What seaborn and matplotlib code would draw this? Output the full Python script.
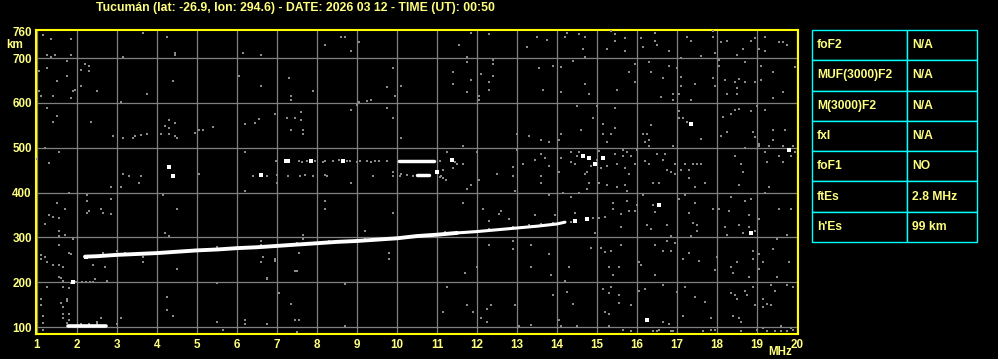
import matplotlib
matplotlib.use("Agg")
import matplotlib.pyplot as plt
import matplotlib.transforms as mtransforms
import numpy as np
import pandas as pd
import seaborn as sns

# ---------------- text / labels ----------------
title = "Tucumán (lat: -26.9, lon: 294.6) - DATE: 2026 03 12 - TIME (UT): 00:50"
x_ticks = list(range(1, 21))
y_ticks = [100, 200, 300, 400, 500, 600, 700, 760]
x_unit = "MHz"
y_unit = "km"
param_names = ["foF2", "MUF(3000)F2", "M(3000)F2", "fxI", "foF1", "ftEs", "h'Es"]
param_values = ["N/A", "N/A", "N/A", "N/A", "NO", "2.8 MHz", "99 km"]

# ---------------- traces (bright, continuous) ----------------
f_trace_low_freq = [2.2, 2.5, 3.0, 3.5, 4.0, 4.5, 5.0, 5.5, 6.0, 6.5, 7.0, 7.5, 8.0,
                    8.5, 9.0, 9.5, 10.0, 10.5, 11.0, 11.5]
f_trace_low_km = [257, 258, 261, 263, 265, 268, 271, 273, 276, 278, 281, 284, 287,
                  290, 292, 295, 298, 303, 306, 310]
f_trace_high_freq = [11.5, 12.0, 12.5, 13.0, 13.5, 14.0, 14.2]
f_trace_high_km = [310, 313, 317, 321, 325, 330, 334]
es_trace_freq = [1.78, 2.72]
es_trace_km = [102, 102]
echo470_seg_freq = [10.05, 10.92]
echo470_seg_km = [471, 471]
echo440_seg_freq = [10.5, 10.8]
echo440_seg_km = [439, 439]

# ---------------- bright isolated echoes ----------------
bright_freq = [7.22, 7.27, 7.85, 8.64, 11.38, 4.29, 4.39, 6.59, 11.0, 1.9, 14.65, 14.80,
               14.95, 15.15, 17.35, 19.80, 18.85, 16.55, 16.24, 2.22, 14.45, 14.75]
bright_km = [471, 471, 471, 471, 473, 458, 438, 440, 446, 201, 482, 478,
             464, 478, 554, 496, 310, 373, 116, 257, 336, 341]

# ---------------- dim echoes (multiple hops) ----------------
echo470_freq = [6.98, 7.55, 7.62, 7.74, 7.95, 8.15, 8.2, 8.41, 8.56, 8.74, 8.83, 9.0,
                9.08, 9.24, 9.35, 9.45, 9.56, 9.74, 11.08, 11.45]
echo470_km = [471, 471, 469, 471, 471, 469, 471, 471, 473, 471, 471, 469,
              471, 471, 469, 471, 471, 471, 471, 469]
echo440_freq = [6.39, 6.63, 6.74, 6.99, 7.28, 7.58, 7.7, 7.91, 8.2, 8.24, 9.41, 9.89,
                10.08, 10.24, 10.41, 11.08, 11.16, 11.22]
echo440_km = [438, 438, 438, 440, 438, 438, 440, 438, 440, 436, 438, 438,
              438, 440, 438, 434, 432, 428]
es2_freq = [1.975, 2.125, 2.225, 2.325, 2.39]
es2_km = [201, 201, 201, 201, 201]
fringe_freq = [2.64, 2.99, 3.2, 3.64, 4.0, 4.99, 5.5, 6.6, 6.75, 7.5, 8.3, 8.9, 9.2,
               10.3, 10.7, 11.2, 12.3, 12.9, 13.3, 13.6, 13.9, 14.35, 14.9, 15.05, 15.2,
               2.1, 2.3, 2.5, 2.65]
fringe_km = [266, 270, 266, 257, 264, 272, 279, 284, 278, 287, 293, 292, 297,
             301, 306, 311, 318, 323, 327, 331, 333, 335, 343, 343, 345,
             107, 107, 107, 99]

# ---------------- background noise ----------------
noise_freq = [
    1.14, 1.34, 1.84, 1.24, 1.34, 1.44, 1.84, 3.64, 4.24, 4.44, 4.44, 3.14, 6.14, 6.59, 8.59, 8.69, 8.19, 9.04, 8.84,
    1.74, 1.04, 1.24, 1.49, 1.74, 1.04, 1.09, 1.39, 1.84, 1.89, 1.94, 2.19, 2.29, 2.09, 2.29, 2.09, 2.49, 3.09, 3.74,
    4.39, 6.04, 6.59, 7.29, 7.34, 7.34, 7.89, 9.89, 9.74, 10.09, 9.94, 9.04, 9.24, 9.34,
    1.24, 1.49, 1.39, 2.34, 2.89, 3.14, 3.39, 3.44, 3.59, 3.74, 4.19, 4.29, 4.29, 4.44, 4.09, 4.29, 4.44, 4.49, 4.94,
    5.04, 5.14, 5.39, 6.19, 6.44, 6.54, 6.94, 7.24, 7.44, 7.59, 7.59, 7.34, 7.64, 7.64, 8.84, 8.99, 9.74, 9.89, 10.09,
    1.19, 1.54, 1.29, 0.99, 6.19, 3.14, 3.29, 3.59, 5.04, 9.89, 10.09,
    11.85, 12.30, 11.55, 11.75, 11.75, 12.40, 12.40, 11.40, 12.10, 11.40, 11.85, 12.40, 12.30, 12.30, 11.75, 12.05,
    12.05, 13.25, 13.50, 13.75, 14.25, 14.20, 14.55, 14.70, 14.65, 14.70, 15.35, 15.45, 15.70, 15.45, 15.25, 15.70,
    14.40, 13.90, 14.10, 13.55, 14.70, 13.65, 14.10, 14.80, 15.50, 15.95, 15.80, 15.95, 16.10, 16.15, 16.45, 16.45,
    16.50, 16.80, 16.30, 16.35, 16.65, 16.80, 17.00, 16.60, 16.90, 16.90, 17.05, 17.10, 17.10, 17.10, 17.45, 17.35,
    17.25, 17.35, 17.60, 17.90, 17.90, 17.95, 18.05, 18.05, 17.90, 17.95, 18.20, 18.45, 18.55, 18.70, 18.70, 18.95,
    18.50, 18.50, 18.25, 18.10, 18.25, 18.50, 18.65, 18.85, 18.95, 19.05, 19.20, 19.20, 19.55, 19.65, 19.75, 19.10,
    19.10, 19.40, 19.65, 19.40, 19.95,
    14.50, 15.00, 15.45, 14.90, 15.15, 15.45, 14.60, 14.10, 13.30, 13.60, 13.80, 13.00, 14.05, 15.15, 15.35, 15.25,
    16.15, 16.35, 16.25, 16.30, 16.20, 16.30, 17.05, 17.15, 17.05, 17.25, 17.60, 18.15, 18.35, 18.45, 18.55, 18.85,
    19.00, 19.20, 19.40, 19.70, 19.40, 18.10, 18.25, 18.90, 18.95, 19.05,
    11.65, 11.25, 11.50, 11.65, 11.40, 11.15, 11.10, 12.00, 12.05, 12.50, 12.90, 12.90, 13.00, 13.15, 13.60, 13.45,
    13.70, 13.80, 14.10, 14.35, 14.50, 14.45, 14.35, 14.55, 14.85, 14.75, 14.70, 14.05, 13.60, 15.05, 15.00, 15.10,
    15.25, 15.45, 15.50, 15.65, 15.65, 15.75, 15.85, 15.70, 15.80, 15.95, 16.00, 16.20, 16.30, 16.50, 16.70, 16.65,
    16.95, 16.75, 16.85, 16.95, 16.90, 17.10, 17.20, 17.30, 17.40, 17.50, 17.60, 17.30, 18.45, 18.60, 18.65, 18.70,
    19.20, 19.25, 19.55, 19.65, 19.85, 19.90, 19.30, 19.65, 19.95, 19.05,
    1.79, 2.24, 2.24, 2.84, 3.09, 2.84, 3.54, 1.49, 1.69, 1.29, 1.39, 1.54, 1.19, 1.54, 1.69, 1.54, 1.54, 1.89,
    2.29, 2.24, 2.59, 2.64, 2.84, 4.14, 4.49, 4.19, 4.29, 6.19, 6.99, 8.84, 8.19, 8.19, 7.64, 7.64, 9.89, 9.19,
    6.59, 6.64, 6.94, 6.94, 6.59, 7.54, 7.44, 7.49, 6.74, 6.74, 4.49, 3.64, 2.69, 2.44, 2.74, 2.39, 1.84, 1.79,
    1.09, 1.09, 1.19, 1.24, 1.39, 1.54, 1.64, 1.54, 1.59, 1.64, 1.24, 1.64, 1.79, 1.84, 1.09, 1.09, 1.59, 1.64,
    1.74, 1.74, 1.14, 1.14, 1.64, 1.64, 1.79, 1.79, 1.74, 1.14, 2.59, 2.49, 3.09, 4.24, 4.24, 4.39, 5.49, 5.49,
    5.64, 6.19, 6.19, 6.74, 7.04, 7.34, 7.44, 7.54, 7.49, 8.69, 8.69, 9.79, 9.79,
    11.85, 12.05, 11.75, 11.65, 12.95, 13.60, 13.80, 14.15, 14.35, 14.55, 14.80, 15.05, 15.25, 15.50, 15.70, 15.75,
    14.75, 12.15, 12.55, 12.60, 12.80, 12.30, 13.45, 13.95, 14.45, 15.40, 15.40, 15.75, 15.80, 15.60, 16.00, 15.95,
    16.15, 16.40, 16.45, 16.40, 16.55, 16.75, 16.25, 16.35, 15.60, 14.95, 17.05, 17.20, 17.45, 17.45, 17.30, 17.40,
    17.50, 17.50, 17.35, 17.70, 17.90, 18.05, 18.30, 18.35, 18.55, 18.70, 18.85, 18.80, 19.05, 19.20, 19.30, 19.55,
    19.85, 19.75, 18.20, 18.55, 18.80, 18.65, 18.95, 18.25,
    12.30, 12.90, 12.90, 13.35, 13.80, 14.85, 15.10, 15.20, 15.35, 15.60, 16.45, 16.65, 16.75, 16.85, 16.95, 16.85,
    17.15, 17.30, 17.55, 18.00, 18.90, 19.05, 19.40, 19.50, 19.80, 18.90, 19.15, 19.05, 18.50, 18.35, 17.95, 18.40,
    18.80, 19.50, 16.05, 16.10, 16.45, 15.55, 15.40, 15.30, 14.30, 13.35, 13.85, 14.20, 12.00, 11.70, 11.25,
    11.75, 11.15, 11.90, 12.25, 12.35, 12.10, 12.25, 12.95, 13.90, 14.25, 14.40, 14.05, 14.10, 13.35, 13.05, 14.50,
    15.15, 15.30, 15.35, 15.55, 15.55, 15.85, 15.20, 15.30, 15.30, 16.05, 16.20, 16.65, 17.00, 17.15, 16.65, 16.80,
    17.45, 17.20, 17.70, 17.85, 18.40, 18.55, 18.60, 18.35, 18.45, 18.50, 18.70, 18.75, 18.90, 18.95, 19.15, 19.15,
    19.25, 19.35, 19.45, 19.35, 19.75, 19.90, 19.60, 19.85, 19.15,
    15.64, 15.84, 16.39, 16.49, 16.54, 16.84, 16.89, 17.64, 17.84, 17.94, 18.59, 18.99, 19.24, 19.44, 19.59, 19.74,
    19.89, 19.59, 1.14, 7.49, 2.99, 8.69, 5.64, 6.74,
]
noise_km = [
    752, 743, 743, 708, 703, 708, 708, 757, 748, 712, 708, 703, 712, 708, 748, 748, 730, 735, 717,
    693, 671, 679, 648, 661, 626, 616, 616, 610, 626, 630, 688, 683, 674, 671, 639, 626, 603, 621,
    648, 661, 639, 656, 616, 607, 626, 679, 635, 639, 616, 603, 605, 607,
    589, 572, 558, 558, 527, 522, 522, 527, 529, 531, 549, 563, 545, 556, 531, 531, 527, 522, 534,
    540, 540, 547, 554, 556, 565, 576, 567, 567, 580, 563, 540, 540, 531, 585, 596, 589, 567, 522,
    500, 491, 465, 476, 491, 442, 438, 438, 442, 447, 442,
    757, 753, 730, 703, 692, 697, 688, 670, 665, 643, 652, 661, 647, 630, 625, 616,
    607, 726, 748, 741, 757, 748, 753, 748, 721, 703, 761, 753, 744, 739, 721, 717,
    694, 683, 681, 679, 643, 630, 625, 621, 630, 686, 670, 647, 744, 726, 757, 739,
    730, 717, 692, 670, 656, 683, 677, 614, 621, 607, 621, 701, 658, 638, 643, 607,
    748, 739, 705, 761, 748, 712, 697, 683, 656, 638, 652, 647, 654, 692, 647, 647,
    634, 621, 621, 735, 739, 708, 721, 739, 744, 721, 748, 717, 735, 735, 730, 683,
    652, 670, 625, 612, 681,
    594, 594, 589, 567, 554, 545, 540, 531, 527, 518, 514, 531, 518, 531, 531, 514,
    531, 551, 531, 518, 514, 505, 581, 567, 567, 558, 520, 569, 576, 585, 587, 581,
    594, 585, 540, 540, 518, 527, 536, 536, 523, 509,
    505, 491, 464, 464, 455, 451, 438, 491, 429, 442, 458, 438, 496, 464, 487, 473,
    478, 460, 478, 491, 482, 464, 469, 491, 460, 447, 442, 447, 438, 493, 473, 455,
    460, 487, 464, 496, 482, 491, 482, 455, 442, 464, 496, 471, 464, 487, 487, 473,
    464, 451, 447, 442, 505, 451, 464, 451, 464, 464, 464, 433, 482, 464, 447, 500,
    491, 469, 482, 469, 482, 505, 505, 505, 491, 505,
    400, 395, 382, 413, 413, 386, 422, 377, 364, 351, 346, 344, 331, 315, 306, 302, 284, 297,
    360, 355, 364, 355, 353, 395, 364, 310, 302, 404, 422, 422, 382, 364, 306, 297, 355, 315,
    293, 257, 252, 248, 244, 266, 226, 226, 210, 208, 230, 244, 235, 208, 203, 239, 264, 266,
    261, 252, 257, 244, 239, 239, 235, 212, 210, 203, 190, 190, 186, 199, 163, 150, 154, 145,
    163, 159, 125, 110, 128, 119, 130, 116, 110, 94, 121, 112, 121, 168, 139, 125, 199, 112,
    94, 116, 107, 107, 177, 152, 116, 116, 89, 197, 103, 266, 252,
    418, 427, 409, 377, 404, 422, 395, 400, 391, 400, 422, 422, 418, 413, 418, 404,
    409, 364, 353, 360, 342, 337, 351, 351, 355, 377, 364, 382, 360, 353, 373, 360,
    395, 373, 357, 422, 422, 328, 328, 319, 324, 310, 386, 395, 413, 377, 355, 333,
    328, 315, 302, 422, 364, 364, 360, 391, 418, 382, 386, 351, 342, 400, 413, 364,
    364, 306, 324, 328, 324, 310, 315, 306,
    284, 293, 275, 284, 264, 277, 277, 268, 270, 284, 284, 270, 293, 270, 288, 302,
    252, 266, 248, 257, 270, 264, 275, 296, 244, 252, 244, 230, 244, 235, 228, 221,
    212, 212, 244, 239, 217, 235, 217, 235, 235, 235, 217, 203, 235, 221, 190,
    148, 134, 134, 141, 148, 121, 112, 148, 172, 179, 152, 116, 103, 105, 103, 103,
    185, 177, 190, 172, 154, 148, 134, 130, 103, 181, 185, 194, 179, 125, 112, 107,
    168, 190, 156, 121, 125, 121, 112, 177, 172, 163, 181, 172, 190, 148, 163, 145,
    152, 148, 181, 194, 194, 190, 103, 98, 98,
    94, 90, 90, 90, 94, 90, 90, 92, 94, 94, 90, 94, 90, 90, 90, 92,
    94, 103, 93, 89, 107, 103, 94, 107,
]

# ---------------- colours ----------------
bg = "black"
frame_col = "#ffff00"
text_col = "#ffff80"
grid_col = "#808080"
dot_col = "#8a8a8a"
table_col = "#00ffff"

sns.set_style("dark", rc={"axes.facecolor": bg, "figure.facecolor": bg,
                          "savefig.facecolor": bg, "grid.color": grid_col})
plt.rcParams["font.family"] = ["Liberation Sans", "DejaVu Sans"]
plt.rcParams["font.weight"] = "bold"

fig = plt.figure(figsize=(9.98, 3.59), dpi=100, facecolor=bg)
W, H = 998.0, 359.0
ax = fig.add_axes([36 / W, 25.5 / H, 762 / W, 304 / H])
ax.set_facecolor(bg)

# data frames
dim_df = pd.concat([
    pd.DataFrame({"freq": noise_freq, "km": noise_km}),
    pd.DataFrame({"freq": echo470_freq, "km": echo470_km}),
    pd.DataFrame({"freq": echo440_freq, "km": echo440_km}),
    pd.DataFrame({"freq": es2_freq, "km": es2_km}),
    pd.DataFrame({"freq": fringe_freq, "km": fringe_km}),
], ignore_index=True)
bright_df = pd.DataFrame({"freq": bright_freq, "km": bright_km})

ax.set_xlim(0.975, 20.025)
ax.set_ylim(85.5, 764)

sns.scatterplot(data=dim_df, x="freq", y="km", marker="s", s=3.4, color=dot_col,
                linewidth=0, ax=ax, legend=False, zorder=3)

segments = [
    (f_trace_low_freq, f_trace_low_km, 2.8),
    (f_trace_high_freq, f_trace_high_km, 2.2),
    (es_trace_freq, es_trace_km, 2.6),
    (echo470_seg_freq, echo470_seg_km, 2.5),
    (echo440_seg_freq, echo440_seg_km, 2.5),
]
for fx, ky, lw in segments:
    seg = pd.DataFrame({"freq": fx, "km": ky})
    sns.lineplot(data=seg, x="freq", y="km", estimator=None, sort=False, color="white",
                 linewidth=lw, ax=ax, legend=False, zorder=4)

sns.scatterplot(data=bright_df, x="freq", y="km", marker="s", s=5.0, color="white",
                linewidth=0, ax=ax, legend=False, zorder=5)

# axes styling
ax.set_xticks(x_ticks)
ax.set_xticklabels([str(t) for t in x_ticks])
ax.set_yticks(y_ticks)
ax.set_yticklabels([str(t) for t in y_ticks])
ax.grid(True, color=grid_col, linewidth=0.9)
ax.get_ygridlines()[-1].set_visible(False)
ax.set_axisbelow(True)
for sp in ax.spines.values():
    sp.set_visible(True)
    sp.set_color(frame_col)
    sp.set_linewidth(1.5)
ax.tick_params(axis="both", length=0, labelcolor=text_col, labelsize=8.4)
ax.tick_params(axis="x", pad=4.0)
ax.tick_params(axis="y", pad=3.0)
for lab in ax.get_xticklabels() + ax.get_yticklabels():
    lab.set_fontweight("bold")
ax.set_xlabel("")
ax.set_ylabel("")

# unit labels
trans_y = mtransforms.blended_transform_factory(fig.transFigure, ax.transData)
ax.text(6 / W, 730, y_unit, transform=trans_y, ha="left", va="center",
        color=text_col, fontsize=8.4, fontweight="bold")
trans_x = mtransforms.blended_transform_factory(ax.transData, fig.transFigure)
ax.text(19.58, (H - 352) / H, x_unit, transform=trans_x, ha="center", va="center",
        color=text_col, fontsize=8.4, fontweight="bold")

# title
fig.text(295 / W, (H - 7.5) / H, title, ha="center", va="center", color=text_col,
         fontsize=8.8, fontweight="bold")

# parameter table
tax = fig.add_axes([812 / W, (H - 242) / H, 165 / W, 212 / H])
tax.axis("off")
tbl = tax.table(cellText=[[p, v] for p, v in zip(param_names, param_values)],
                colWidths=[95 / 165, 70 / 165], bbox=[0, 0, 1, 1], cellLoc="left")
tbl.auto_set_font_size(False)
for (r, c), cell in tbl.get_celld().items():
    cell.set_facecolor(bg)
    cell.set_edgecolor(table_col)
    cell.set_linewidth(1.0)
    cell.PAD = (5 / 95) if c == 0 else (5 / 70)
    t = cell.get_text()
    t.set_color(text_col)
    t.set_fontsize(8.7)
    t.set_fontweight("bold")

fig.savefig("out.png", dpi=100, facecolor=bg)
